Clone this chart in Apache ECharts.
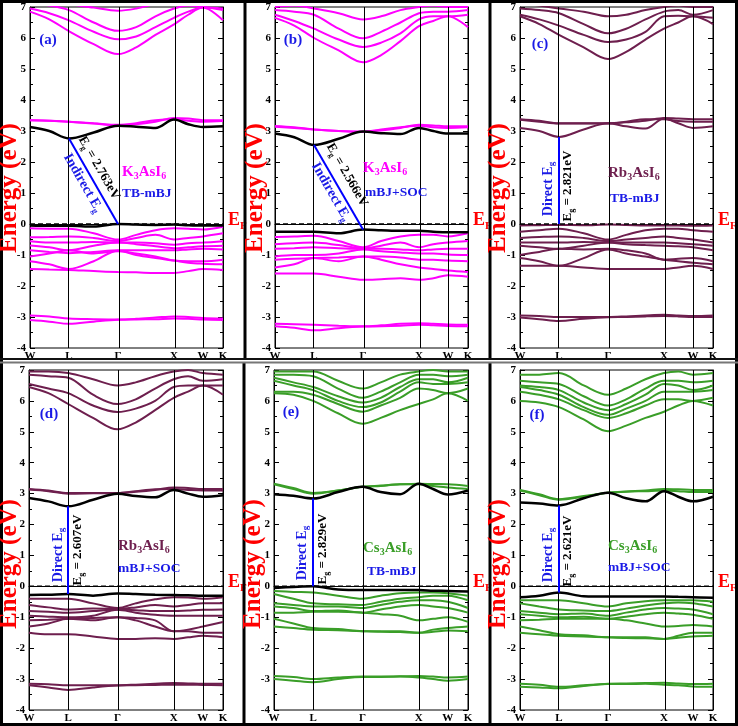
<!DOCTYPE html>
<html>
<head>
<meta charset="utf-8">
<script src="https://cdn.jsdelivr.net/npm/echarts@6/dist/echarts.min.js"></script>
<style>html,body{margin:0;padding:0;background:#fff}#container{width:738px;height:726px}</style>
</head>
<body>
<div id="container"></div>
<script>
// k-path sample points and high symmetry labels
var kPath = [0, 0.1, 0.202, 0.33, 0.456, 0.55, 0.65, 0.746, 0.82, 0.896, 1];
var kTicks = [0, 0.202, 0.456, 0.746, 0.896, 1];
var kNames = ['W', 'L', 'Γ', 'X', 'W', 'K'];
var eMin = -4, eMax = 7;

// (a) K3AsI6 TB-mBJ
var blackA = [
    [3.13, 3.0, 2.76, 2.95, 3.17, 3.14, 3.1, 3.37, 3.22, 3.13, 3.15],
    [-0.05, -0.06, -0.06, -0.08, 0.0, -0.02, -0.03, -0.02, -0.04, -0.05, -0.05]
];
var bandsA = [
    [6.85, 6.6, 6.22, 5.8, 5.48, 5.7, 6.1, 6.44, 6.75, 6.98, 6.57],
    [6.95, 6.8, 6.57, 6.2, 5.96, 6.05, 6.35, 6.65, 6.85, 6.98, 6.9],
    [7.1, 7.05, 6.9, 6.5, 6.23, 6.35, 6.7, 6.95, 7.05, 7.0, 6.95],
    [7.3, 7.25, 7.1, 6.98, 6.88, 6.95, 7.1, 7.2, 7.2, 7.1, 7.1],
    [3.35, 3.33, 3.3, 3.25, 3.2, 3.22, 3.3, 3.42, 3.4, 3.35, 3.35],
    [3.35, 3.33, 3.3, 3.24, 3.19, 3.25, 3.35, 3.38, 3.33, 3.3, 3.32],
    [-0.14, -0.15, -0.15, -0.3, -0.5, -0.35, -0.2, -0.14, -0.15, -0.18, -0.09],
    [-0.43, -0.42, -0.4, -0.45, -0.55, -0.45, -0.35, -0.5, -0.45, -0.4, -0.3],
    [-0.56, -0.6, -0.6, -0.58, -0.6, -0.6, -0.62, -0.67, -0.62, -0.6, -0.56],
    [-0.69, -0.75, -0.85, -0.7, -0.6, -0.65, -0.72, -0.78, -0.75, -0.72, -0.7],
    [-0.85, -0.9, -0.94, -0.9, -0.85, -0.85, -0.85, -0.85, -0.82, -0.8, -0.82],
    [-1.05, -0.95, -0.85, -0.95, -0.88, -0.95, -1.05, -1.18, -1.2, -1.2, -1.15],
    [-1.2, -1.3, -1.45, -1.2, -0.86, -1.0, -1.1, -1.18, -1.25, -1.28, -1.3],
    [-1.45, -1.47, -1.48, -1.52, -1.55, -1.56, -1.58, -1.58, -1.52, -1.45, -1.48],
    [-2.95, -2.98, -3.05, -3.07, -3.08, -3.06, -3.02, -2.98, -3.0, -3.03, -3.05],
    [-3.1, -3.15, -3.22, -3.15, -3.09, -3.08, -3.07, -3.05, -3.06, -3.08, -3.1]
];

// (b) K3AsI6 mBJ+SOC
var blackB = [
    [2.92, 2.8, 2.55, 2.75, 2.98, 2.93, 2.9, 3.1, 3.0, 2.92, 2.92],
    [-0.25, -0.25, -0.25, -0.3, -0.18, -0.2, -0.22, -0.22, -0.25, -0.27, -0.27]
];
var bandsB = [
    [6.65, 6.4, 6.0, 5.6, 5.22, 5.45, 5.9, 6.38, 6.55, 6.7, 6.35],
    [6.75, 6.55, 6.3, 5.95, 5.71, 5.85, 6.15, 6.6, 6.7, 6.7, 6.75],
    [6.9, 6.85, 6.75, 6.3, 5.99, 6.2, 6.5, 6.8, 6.85, 6.85, 6.9],
    [7.0, 7.05, 6.95, 6.8, 6.6, 6.7, 6.9, 7.0, 7.05, 7.0, 7.0],
    [3.16, 3.12, 3.05, 3.0, 2.98, 3.02, 3.1, 3.2, 3.18, 3.15, 3.15],
    [3.14, 3.1, 3.05, 3.0, 2.97, 3.05, 3.12, 3.17, 3.12, 3.1, 3.12],
    [-0.42, -0.4, -0.38, -0.55, -0.75, -0.55, -0.4, -0.35, -0.35, -0.4, -0.3],
    [-0.65, -0.62, -0.6, -0.68, -0.78, -0.7, -0.6, -0.75, -0.65, -0.6, -0.55],
    [-0.8, -0.78, -0.75, -0.78, -0.8, -0.8, -0.82, -0.85, -0.82, -0.8, -0.8],
    [-1.05, -1.0, -1.0, -0.95, -0.82, -0.88, -0.92, -0.95, -0.95, -0.98, -1.0],
    [-1.15, -1.12, -1.1, -1.08, -1.05, -1.05, -1.08, -1.15, -1.15, -1.18, -1.2],
    [-1.4, -1.3, -1.1, -1.2, -1.05, -1.15, -1.3, -1.4, -1.45, -1.5, -1.55],
    [-1.6, -1.6, -1.6, -1.7, -1.8, -1.78, -1.75, -1.8, -1.75, -1.65, -1.7],
    [-3.22, -3.23, -3.25, -3.28, -3.3, -3.27, -3.22, -3.2, -3.22, -3.24, -3.25],
    [-3.3, -3.35, -3.43, -3.36, -3.31, -3.3, -3.28, -3.25, -3.27, -3.29, -3.3]
];

// (c) Rb3AsI6 TB-mBJ
var blackC = [];
var bandsC = [
    [6.7, 6.45, 6.1, 5.7, 5.32, 5.55, 5.95, 6.3, 6.5, 6.7, 6.45],
    [6.75, 6.6, 6.4, 6.1, 5.87, 5.95, 6.2, 6.7, 6.72, 6.7, 6.65],
    [6.95, 6.9, 6.8, 6.45, 6.15, 6.3, 6.6, 6.85, 6.9, 6.75, 6.9],
    [7.1, 7.05, 6.95, 6.85, 6.7, 6.75, 6.9, 7.0, 7.05, 7.0, 7.0],
    [3.1, 3.0, 2.81, 3.05, 3.25, 3.15, 3.08, 3.4, 3.25, 3.1, 3.15],
    [3.38, 3.33, 3.25, 3.25, 3.25, 3.28, 3.33, 3.42, 3.4, 3.38, 3.38],
    [3.36, 3.3, 3.24, 3.24, 3.24, 3.3, 3.38, 3.38, 3.32, 3.3, 3.3],
    [-0.05, -0.04, -0.03, -0.04, -0.02, -0.03, -0.05, -0.05, -0.05, -0.06, -0.05],
    [-0.25, -0.2, -0.15, -0.3, -0.5, -0.35, -0.2, -0.15, -0.15, -0.2, -0.25],
    [-0.45, -0.42, -0.4, -0.45, -0.55, -0.5, -0.45, -0.4, -0.45, -0.5, -0.6],
    [-0.6, -0.6, -0.6, -0.58, -0.6, -0.6, -0.6, -0.6, -0.62, -0.65, -0.7],
    [-0.7, -0.75, -0.8, -0.7, -0.6, -0.65, -0.68, -0.7, -0.72, -0.75, -0.85],
    [-1.0, -0.9, -0.8, -0.82, -0.8, -0.85, -0.95, -1.15, -1.12, -1.1, -1.2],
    [-1.1, -1.2, -1.35, -1.1, -0.82, -0.95, -1.05, -1.15, -1.2, -1.25, -1.3],
    [-1.35, -1.35, -1.35, -1.4, -1.45, -1.45, -1.45, -1.45, -1.4, -1.35, -1.45],
    [-2.95, -2.97, -3.0, -3.0, -3.0, -2.98, -2.95, -2.93, -2.95, -2.97, -2.95],
    [-3.02, -3.07, -3.13, -3.06, -3.01, -3.0, -2.98, -2.97, -2.98, -3.0, -3.0]
];

// (d) Rb3AsI6 mBJ+SOC
var blackD = [
    [2.86, 2.75, 2.59, 2.8, 3.0, 2.92, 2.88, 3.12, 3.0, 2.9, 2.95],
    [-0.28, -0.27, -0.25, -0.3, -0.23, -0.25, -0.27, -0.28, -0.29, -0.3, -0.3]
];
var bandsD = [
    [6.45, 6.25, 5.9, 5.45, 5.08, 5.3, 5.7, 6.1, 6.3, 6.5, 6.2],
    [6.55, 6.4, 6.25, 5.85, 5.64, 5.75, 6.0, 6.45, 6.5, 6.5, 6.5],
    [6.85, 6.8, 6.75, 6.2, 5.9, 6.05, 6.4, 6.7, 6.8, 6.65, 6.7],
    [6.95, 6.95, 6.9, 6.7, 6.5, 6.6, 6.8, 6.95, 7.0, 6.9, 6.85],
    [3.15, 3.1, 3.02, 3.02, 3.02, 3.06, 3.12, 3.2, 3.18, 3.15, 3.15],
    [3.13, 3.08, 3.0, 3.01, 3.02, 3.08, 3.14, 3.15, 3.12, 3.1, 3.1],
    [-0.4, -0.4, -0.4, -0.55, -0.7, -0.55, -0.42, -0.35, -0.36, -0.4, -0.35],
    [-0.6, -0.68, -0.75, -0.72, -0.73, -0.68, -0.6, -0.65, -0.6, -0.55, -0.55],
    [-0.8, -0.82, -0.85, -0.8, -0.75, -0.77, -0.8, -0.8, -0.78, -0.76, -0.75],
    [-0.95, -0.98, -1.0, -0.95, -0.76, -0.85, -0.92, -0.95, -0.95, -0.95, -0.95],
    [-1.1, -1.08, -1.05, -1.02, -1.0, -1.02, -1.1, -1.45, -1.4, -1.3, -1.15],
    [-1.3, -1.2, -1.05, -1.1, -1.0, -1.1, -1.3, -1.45, -1.45, -1.5, -1.5],
    [-1.5, -1.55, -1.55, -1.62, -1.7, -1.7, -1.68, -1.7, -1.65, -1.6, -1.65],
    [-3.15, -3.17, -3.2, -3.2, -3.2, -3.18, -3.15, -3.13, -3.14, -3.15, -3.15],
    [-3.2, -3.27, -3.35, -3.27, -3.21, -3.2, -3.19, -3.18, -3.18, -3.19, -3.2]
];

// (e) Cs3AsI6 TB-mBJ
var blackE = [
    [2.98, 2.93, 2.84, 3.05, 3.22, 3.05, 2.98, 3.32, 3.15, 2.97, 3.1],
    [-0.05, -0.02, 0.0, -0.1, -0.12, -0.12, -0.12, -0.12, -0.14, -0.15, -0.17]
];
var bandsE = [
    [6.25, 6.2, 6.0, 5.6, 5.26, 5.45, 5.7, 5.9, 6.05, 6.25, 6.0],
    [6.3, 6.3, 6.2, 5.9, 5.65, 5.85, 6.1, 6.4, 6.35, 6.25, 6.4],
    [6.65, 6.5, 6.35, 6.0, 5.8, 5.95, 6.3, 6.6, 6.55, 6.55, 6.6],
    [6.75, 6.6, 6.45, 6.15, 5.95, 6.1, 6.45, 6.7, 6.7, 6.6, 6.75],
    [6.85, 6.85, 6.8, 6.4, 6.1, 6.3, 6.6, 6.85, 6.85, 6.8, 6.85],
    [6.95, 6.95, 6.95, 6.65, 6.4, 6.6, 6.85, 6.95, 7.0, 6.95, 6.95],
    [3.32, 3.18, 3.02, 3.1, 3.22, 3.26, 3.3, 3.32, 3.31, 3.3, 3.25],
    [3.3, 3.15, 3.0, 3.1, 3.22, 3.25, 3.3, 3.3, 3.25, 3.2, 3.15],
    [-0.15, -0.18, -0.2, -0.3, -0.4, -0.3, -0.22, -0.2, -0.2, -0.22, -0.3],
    [-0.25, -0.4, -0.55, -0.58, -0.6, -0.5, -0.4, -0.35, -0.3, -0.3, -0.45],
    [-0.55, -0.6, -0.65, -0.65, -0.7, -0.6, -0.5, -0.45, -0.45, -0.5, -0.7],
    [-0.65, -0.7, -0.8, -0.78, -0.85, -0.75, -0.65, -0.6, -0.65, -0.7, -0.85],
    [-0.85, -0.85, -0.82, -0.82, -0.85, -0.9, -0.95, -1.1, -1.05, -1.0, -1.15],
    [-1.05, -1.2, -1.35, -1.38, -1.45, -1.45, -1.45, -1.5, -1.4, -1.35, -1.3],
    [-1.3, -1.35, -1.4, -1.42, -1.45, -1.47, -1.48, -1.5, -1.47, -1.43, -1.45],
    [-2.9, -2.93, -3.0, -2.95, -2.92, -2.92, -2.91, -2.9, -2.92, -2.95, -2.92],
    [-3.0, -3.05, -3.1, -3.0, -2.93, -2.93, -2.92, -2.95, -3.0, -3.05, -3.0]
];

// (f) Cs3AsI6 mBJ+SOC
var blackF = [
    [2.71, 2.68, 2.62, 2.85, 3.03, 2.85, 2.75, 3.08, 2.9, 2.75, 2.9],
    [-0.35, -0.3, -0.2, -0.32, -0.33, -0.33, -0.33, -0.33, -0.34, -0.35, -0.37]
];
var bandsF = [
    [6.0, 5.95, 5.8, 5.4, 5.02, 5.2, 5.45, 5.65, 5.85, 6.0, 5.85],
    [6.3, 6.2, 6.05, 5.7, 5.45, 5.6, 5.85, 6.05, 6.05, 6.0, 6.1],
    [6.45, 6.35, 6.2, 5.8, 5.55, 5.75, 6.0, 6.3, 6.3, 6.3, 6.35],
    [6.5, 6.45, 6.35, 5.95, 5.7, 5.9, 6.2, 6.55, 6.5, 6.35, 6.5],
    [6.65, 6.6, 6.55, 6.15, 5.85, 6.05, 6.4, 6.65, 6.65, 6.6, 6.65],
    [6.85, 6.85, 6.9, 6.5, 6.2, 6.4, 6.7, 6.9, 6.95, 6.85, 6.9],
    [3.12, 2.98, 2.82, 2.92, 3.03, 3.07, 3.1, 3.15, 3.14, 3.12, 3.12],
    [3.1, 2.95, 2.8, 2.9, 3.03, 3.06, 3.08, 3.1, 3.08, 3.05, 3.05],
    [-0.45, -0.45, -0.45, -0.55, -0.65, -0.55, -0.48, -0.45, -0.45, -0.45, -0.5],
    [-0.55, -0.65, -0.75, -0.78, -0.8, -0.72, -0.62, -0.55, -0.52, -0.55, -0.65],
    [-0.8, -0.85, -0.9, -0.88, -0.95, -0.85, -0.75, -0.7, -0.72, -0.75, -0.9],
    [-0.9, -0.95, -1.0, -0.98, -1.05, -0.98, -0.9, -0.85, -0.88, -0.92, -1.05],
    [-1.1, -1.08, -1.05, -1.05, -1.05, -1.1, -1.2, -1.3, -1.28, -1.25, -1.3],
    [-1.3, -1.42, -1.55, -1.58, -1.65, -1.65, -1.65, -1.7, -1.6, -1.5, -1.5],
    [-1.5, -1.55, -1.6, -1.62, -1.65, -1.67, -1.68, -1.7, -1.66, -1.62, -1.6],
    [-3.15, -3.18, -3.25, -3.2, -3.15, -3.14, -3.13, -3.12, -3.14, -3.16, -3.15],
    [-3.25, -3.27, -3.3, -3.22, -3.16, -3.16, -3.15, -3.18, -3.2, -3.24, -3.25]
];

// band gap arrows: from VBM [k, E] to CBM [k, E]
var gapFrom = [[0.456, 0.0], [0.456, -0.18], [0.202, 0.0], [0.202, -0.25], [0.202, 0.0], [0.202, -0.2]];
var gapTo = [[0.202, 2.76], [0.202, 2.55], [0.202, 2.81], [0.202, 2.59], [0.202, 2.84], [0.202, 2.62]];
var gapValues = ['2.763', '2.566', '2.821', '2.607', '2.829', '2.621'];

var allBands = [bandsA, bandsB, bandsC, bandsD, bandsE, bandsF];
var allBlack = [blackA, blackB, blackC, blackD, blackE, blackF];
var bandColor = ['#ff00ff', '#ff00ff', '#6e1f4e', '#6e1f4e', '#3a9e28', '#3a9e28'];
var grids = [[30, 7, 193, 341], [275, 7, 193, 341], [520, 7, 193, 341],
             [29, 370, 194, 340], [274, 370, 194, 340], [520, 370, 193, 340]];

var serif = "'Liberation Serif','Times New Roman',serif";
var dom = document.getElementById('container');
var myChart = echarts.init(dom, null, {renderer: 'canvas'});

var gridList = [], xList = [], yList = [], series = [];

for (var i = 0; i < 6; i++) {
    var g = grids[i];
    gridList.push({left: g[0], top: g[1], width: g[2], height: g[3], show: true,
        outerBoundsMode: 'none', containLabel: false,
        borderColor: '#000', borderWidth: 1, backgroundColor: 'transparent'});
    xList.push({
        type: 'value', gridIndex: i, min: 0, max: 1,
        axisLine: {show: true, lineStyle: {color: '#000', width: 1}},
        axisTick: {show: false},
        splitLine: {show: false},
        axisLabel: {
            customValues: kTicks, margin: 3,
            color: '#000', fontFamily: serif, fontWeight: 'bold', fontSize: 11,
            formatter: function (v) {
                var idx = kTicks.indexOf(v);
                return idx >= 0 ? kNames[idx] : '';
            }
        }
    });
    var yCommon = {
        type: 'value', gridIndex: i, min: eMin, max: eMax, interval: 1,
        axisLine: {show: true, lineStyle: {color: '#000', width: 1}},
        axisTick: {show: true, inside: true, length: 5, lineStyle: {color: '#000'}},
        minorTick: {show: true, splitNumber: 2, length: 3, lineStyle: {color: '#000'}},
        splitLine: {show: false}
    };
    yList.push(Object.assign({}, yCommon, {
        position: 'left',
        axisLabel: {color: '#000', fontFamily: serif, fontWeight: 'bold', fontSize: 11, margin: 4}
    }));
    yList.push(Object.assign({}, yCommon, {position: 'right', axisLabel: {show: false}}));

    var colored = allBands[i];
    for (var b = 0; b < colored.length; b++) {
        var s = {
            type: 'line', xAxisIndex: i, yAxisIndex: 2 * i,
            data: kPath.map(function (k, j) { return [k, this[j]]; }, colored[b]),
            showSymbol: false, smooth: 0.35, silent: true, animation: false,
            lineStyle: {color: bandColor[i], width: 2}, z: 2
        };
        if (b === 0) {
            s.markLine = {
                silent: true, symbol: 'none', animation: false,
                label: {show: false},
                lineStyle: {color: '#000', width: 1, type: 'solid'},
                data: kTicks.slice(1, 5).map(function (k) { return {xAxis: k}; })
            };
        }
        series.push(s);
    }
    var blk = allBlack[i];
    for (var c = 0; c < blk.length; c++) {
        series.push({
            type: 'line', xAxisIndex: i, yAxisIndex: 2 * i,
            data: kPath.map(function (k, j) { return [k, this[j]]; }, blk[c]),
            showSymbol: false, smooth: 0.35, silent: true, animation: false,
            lineStyle: {color: '#000', width: 2.5}, z: 3
        });
    }
    // Fermi level + gap arrow
    series.push({
        type: 'line', xAxisIndex: i, yAxisIndex: 2 * i,
        data: [[0, 0], [1, 0]], showSymbol: false, silent: true, animation: false,
        lineStyle: {color: '#000', width: 1.5, type: [5, 3]}, z: 4,
        endLabel: {
            show: true, distance: 5, offset: [0, -4],
            formatter: '{e|E}{f|F}',
            rich: {
                e: {color: '#ff0000', fontFamily: serif, fontWeight: 'bold', fontSize: 18},
                f: {color: '#ff0000', fontFamily: serif, fontWeight: 'bold', fontSize: 11, padding: [12, 0, 0, 0]}
            }
        },
        markLine: {
            silent: true, animation: false, symbol: ['none', 'arrow'], symbolSize: [0, 7],
            label: {show: false},
            lineStyle: {color: '#0000ff', width: 2, type: 'solid'},
            data: [[{coord: gapFrom[i]}, {coord: gapTo[i]}]]
        }
    });
}

function txt(x, y, tpl, color, size, rot, align) {
    return {
        type: 'text', x: x, y: y, rotation: rot || 0, z: 100, silent: true,
        style: {
            text: tpl, align: align || 'center', verticalAlign: 'middle',
            rich: {
                n: {fontSize: size, fontWeight: 'bold', fontFamily: serif, fill: color},
                s: {fontSize: Math.round(size * 0.65), fontWeight: 'bold', fontFamily: serif, fill: color,
                    padding: [Math.round(size * 0.6), 0, 0, 0]}
            }
        }
    };
}

var blue = '#1a1ae6';
var red = '#ff0000';
var slope = -1.05;
var up = Math.PI / 2;
var graphics = [
    // frames
    {type: 'rect', shape: {x: 1.5, y: 1.5, width: 735, height: 723}, style: {fill: 'none', stroke: '#000', lineWidth: 3}, z: 50},
    {type: 'line', shape: {x1: 245, y1: 0, x2: 245, y2: 360}, style: {stroke: '#000', lineWidth: 3}, z: 50},
    {type: 'line', shape: {x1: 490, y1: 0, x2: 490, y2: 360}, style: {stroke: '#000', lineWidth: 3}, z: 50},
    {type: 'line', shape: {x1: 244, y1: 362, x2: 244, y2: 726}, style: {stroke: '#000', lineWidth: 3}, z: 50},
    {type: 'line', shape: {x1: 490, y1: 362, x2: 490, y2: 726}, style: {stroke: '#000', lineWidth: 3}, z: 50},
    {type: 'line', shape: {x1: 0, y1: 359, x2: 738, y2: 359}, style: {stroke: '#111', lineWidth: 2}, z: 50},
    {type: 'line', shape: {x1: 0, y1: 362.5, x2: 738, y2: 362.5}, style: {stroke: '#777', lineWidth: 2}, z: 50},
    // energy axis titles
    txt(10, 188, '{n|Energy (eV)}', red, 25, up),
    txt(256, 188, '{n|Energy (eV)}', red, 25, up),
    txt(499, 188, '{n|Energy (eV)}', red, 25, up),
    txt(10, 564, '{n|Energy (eV)}', red, 25, up),
    txt(254, 564, '{n|Energy (eV)}', red, 25, up),
    txt(499, 564, '{n|Energy (eV)}', red, 25, up),
    // panel letters
    txt(48, 40, '{n|(a)}', blue, 15),
    txt(293, 40, '{n|(b)}', blue, 15),
    txt(540, 44, '{n|(c)}', blue, 15),
    txt(49, 414, '{n|(d)}', blue, 15),
    txt(291, 412, '{n|(e)}', blue, 15),
    txt(537, 415, '{n|(f)}', blue, 15),
    // compound and method
    txt(122, 172, '{n|K}{s|3}{n|AsI}{s|6}', '#ff00ff', 15, 0, 'left'),
    txt(122, 194, '{n|TB-mBJ}', blue, 13.5, 0, 'left'),
    txt(363, 168, '{n|K}{s|3}{n|AsI}{s|6}', '#ff00ff', 15, 0, 'left'),
    txt(365, 193, '{n|mBJ+SOC}', blue, 13.5, 0, 'left'),
    txt(608, 173, '{n|Rb}{s|3}{n|AsI}{s|6}', '#6e1f4e', 15, 0, 'left'),
    txt(610, 199, '{n|TB-mBJ}', blue, 13.5, 0, 'left'),
    txt(118, 546, '{n|Rb}{s|3}{n|AsI}{s|6}', '#6e1f4e', 15, 0, 'left'),
    txt(118, 569, '{n|mBJ+SOC}', blue, 13.5, 0, 'left'),
    txt(363, 548, '{n|Cs}{s|3}{n|AsI}{s|6}', '#3a9e28', 15, 0, 'left'),
    txt(367, 572, '{n|TB-mBJ}', blue, 13.5, 0, 'left'),
    txt(608, 546, '{n|Cs}{s|3}{n|AsI}{s|6}', '#3a9e28', 15, 0, 'left'),
    txt(608, 568, '{n|mBJ+SOC}', blue, 13.5, 0, 'left'),
    // gap annotations
    txt(99, 168, '{n|E}{s|g}{n| = ' + gapValues[0] + 'eV}', '#000', 13, slope),
    txt(83, 183, '{n|Indirect E}{s|g}', blue, 14, slope),
    txt(347, 175, '{n|E}{s|g}{n| = ' + gapValues[1] + 'eV}', '#000', 13, slope),
    txt(331, 192, '{n|Indirect E}{s|g}', blue, 14, slope),
    txt(548, 189, '{n|Direct E}{s|g}', blue, 14, up),
    txt(568, 186, '{n|E}{s|g}{n| = ' + gapValues[2] + 'eV}', '#000', 13, up),
    txt(58, 555, '{n|Direct E}{s|g}', blue, 14, up),
    txt(78, 550, '{n|E}{s|g}{n| = ' + gapValues[3] + 'eV}', '#000', 13, up),
    txt(302, 553, '{n|Direct E}{s|g}', blue, 14, up),
    txt(323, 549, '{n|E}{s|g}{n| = ' + gapValues[4] + 'eV}', '#000', 13, up),
    txt(548, 555, '{n|Direct E}{s|g}', blue, 14, up),
    txt(568, 551, '{n|E}{s|g}{n| = ' + gapValues[5] + 'eV}', '#000', 13, up)
];

var option = {
    backgroundColor: '#fff',
    animation: false,
    grid: gridList,
    xAxis: xList,
    yAxis: yList,
    series: series,
    graphic: graphics
};
if (option && typeof option === 'object') {
    myChart.setOption(option, true);
}
</script>
</body>
</html>
